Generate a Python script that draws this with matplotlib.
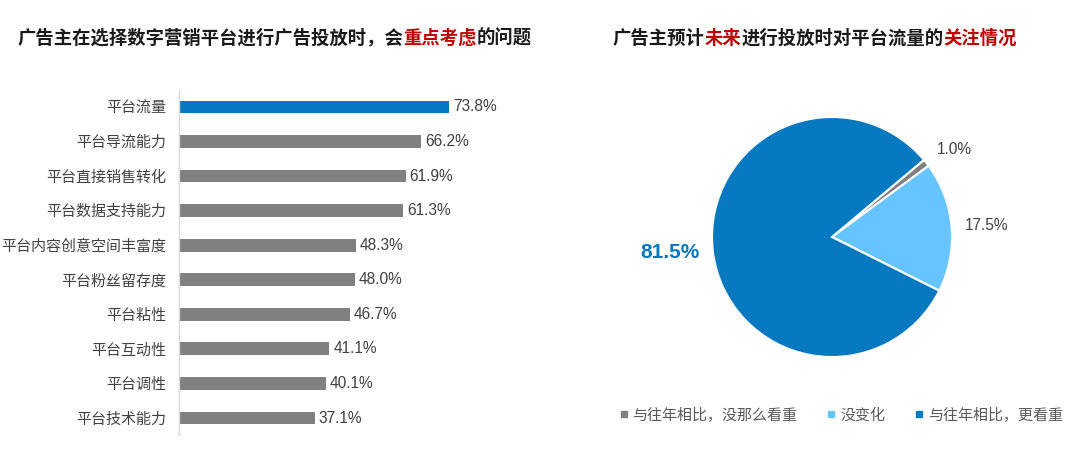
import matplotlib
matplotlib.use("Agg")
import matplotlib.pyplot as plt
from matplotlib.lines import Line2D

plt.rcParams['font.family'] = ['Noto Sans CJK SC', 'DejaVu Sans']

# ---------------- data ----------------
bar_categories = ["平台流量", "平台导流能力", "平台直接销售转化", "平台数据支持能力",
                  "平台内容创意空间丰富度", "平台粉丝留存度", "平台粘性", "平台互动性",
                  "平台调性", "平台技术能力"]
bar_values = [73.8, 66.2, 61.9, 61.3, 48.3, 48.0, 46.7, 41.1, 40.1, 37.1]

pie_labels = ["与往年相比，没那么看重", "没变化", "与往年相比，更看重"]
pie_values = [1.0, 17.5, 81.5]

left_title = [("广告主在选择数字营销平台进行广告投放时，会", "#1a1a1a"),
              ("重点考虑", "#C00000"), ("的问题", "#1a1a1a")]
right_title = [("广告主预计", "#1a1a1a"), ("未来", "#C00000"),
               ("进行投放时对平台流量的", "#1a1a1a"), ("关注情况", "#C00000")]

BLUE = "#0779C1"
GRAY = "#808080"
LIGHT = "#66C4FF"
TXT = "#404040"
NUMFONT = ["Liberation Sans", "DejaVu Sans"]

fig = plt.figure(figsize=(10.8, 4.5), dpi=100)
fig.patch.set_facecolor("white")

# ---------------- bar chart ----------------
ax = fig.add_axes([179/1080, 0.0327, 366/1080, 0.768])
ypos = list(range(len(bar_values)))
colors = [BLUE] + [GRAY] * (len(bar_values) - 1)
ax.barh(ypos, bar_values, height=0.37, color=colors)
ax.set_xlim(0, 100)
ax.set_ylim(len(bar_values) - 0.5, -0.5)
ax.set_yticks(ypos)
ax.set_yticklabels(bar_categories, fontsize=10.8, color=TXT)
ax.tick_params(axis='y', length=0, pad=9)
ax.set_xticks([])
for s in ["top", "right", "bottom"]:
    ax.spines[s].set_visible(False)
ax.spines["left"].set_color("#D9D9D9")
ax.spines["left"].set_linewidth(1)
for y, v in zip(ypos, bar_values):
    ax.text(v + 1.1, y, f"{v:.1f}%", va="center", ha="left", fontsize=11.2,
            color=TXT, family=NUMFONT)

# ---------------- pie chart ----------------
pax = fig.add_axes([712/1080, (450-357)/450, 240/1080, 240/450])
wedges, _ = pax.pie(pie_values, colors=[GRAY, LIGHT, BLUE], startangle=40,
                    counterclock=False, radius=1,
                    wedgeprops=dict(edgecolor="white", linewidth=1.5))
pax.set_xlim(-1, 1)
pax.set_ylim(-1, 1)
pax.set_aspect("equal")
pax.axis("off")

fig.text(937/1080, 1 - 150/450, "1.0%", fontsize=11.2, color=TXT, va="center",
         ha="left", family=NUMFONT)
fig.text(965/1080, 1 - 225/450, "17.5%", fontsize=11.2, color=TXT, va="center",
         ha="left", family=NUMFONT)
fig.text(640/1080, 1 - 253/450, "81.5%", fontsize=15, color=BLUE, va="center",
         ha="left", fontweight="bold", family=NUMFONT)

# legend
handles = [Line2D([], [], marker="s", linestyle="none", markersize=4,
                  markerfacecolor=c, markeredgecolor=c) for c in [GRAY, LIGHT, BLUE]]
fig.legend(handles, pie_labels, loc="center", bbox_to_anchor=(841/1080, 1 - 415/450),
           ncol=3, frameon=False, fontsize=10.8, handlelength=0.6,
           handletextpad=0.3, columnspacing=1.95, labelcolor="#595959")

# ---------------- titles (multi-colour) ----------------
renderer = fig.canvas.get_renderer()

def draw_pieces(x_px, y_px, pieces):
    x = x_px
    for s, c in pieces:
        t = fig.text(x / 1080, 1 - y_px / 450, s, color=c, fontsize=13.2,
                     fontweight="bold", va="center", ha="left")
        bb = t.get_window_extent(renderer=renderer)
        x += bb.width

draw_pieces(17, 38, left_title)
draw_pieces(613, 38, right_title)

fig.savefig("out.png", dpi=100, facecolor="white")
